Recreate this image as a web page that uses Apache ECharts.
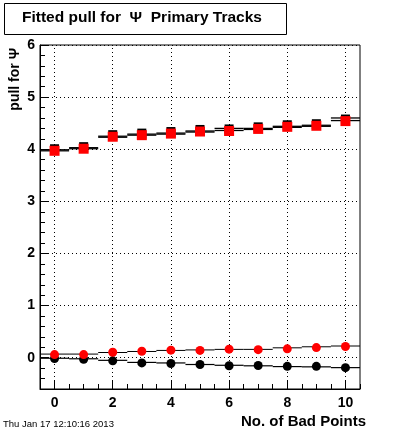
<!DOCTYPE html>
<html>
<head>
<meta charset="utf-8">
<script src="https://cdn.jsdelivr.net/npm/echarts@6/dist/echarts.min.js"></script>
<style>
html,body{margin:0;padding:0;background:#fff;}
#chart{width:400px;height:433px;}
</style>
</head>
<body>
<div id="chart"></div>
<script>
// ---- data ----
const bins = [0, 1, 2, 3, 4, 5, 6, 7, 8, 9, 10];
const redSquares   = [3.97, 4.01, 4.24, 4.27, 4.30, 4.34, 4.35, 4.39, 4.43, 4.45, 4.54];
const blackSquares = [4.00, 4.04, 4.27, 4.30, 4.33, 4.37, 4.38, 4.42, 4.46, 4.48, 4.57];
const upperHistA   = [3.99, 4.03, 4.25, 4.29, 4.31, 4.35, 4.40, 4.40, 4.44, 4.46, 4.60];
const upperHistB   = [3.97, 4.01, 4.23, 4.27, 4.29, 4.33, 4.36, 4.38, 4.42, 4.44, 4.55];
const redCircles   = [0.06, 0.06, 0.105, 0.125, 0.145, 0.14, 0.165, 0.155, 0.17, 0.195, 0.215];
const blackCircles = [-0.015, -0.03, -0.06, -0.10, -0.11, -0.13, -0.155, -0.15, -0.165, -0.165, -0.19];
const lowerHistRed   = [0.07, 0.07, 0.10, 0.12, 0.14, 0.15, 0.16, 0.16, 0.19, 0.21, 0.225];
const lowerHistBlack = [-0.01, -0.02, -0.05, -0.09, -0.10, -0.13, -0.145, -0.155, -0.17, -0.175, -0.19];
const xTickLabels = [0, 2, 4, 6, 8, 10];
const yTickLabels = [0, 1, 2, 3, 4, 5, 6];
const titleText = 'Fitted pull for  \u03A8  Primary Tracks';
const xTitle = 'No. of Bad Points';
const yTitle = 'pull for \u03A8';
const dateText = 'Thu Jan 17 12:10:16 2013';

// ---- build ----
const X_MIN = -0.5, X_MAX = 10.5, Y_MIN = -0.6, Y_MAX = 6;
const xMinor = [];
for (let v = X_MIN; v <= X_MAX + 1e-9; v += 0.5) xMinor.push(Math.round(v * 10) / 10);
const yMinor = [];
for (let v = Y_MIN; v <= Y_MAX + 1e-9; v += 0.2) yMinor.push(Math.round(v * 10) / 10);

const pairs = arr => bins.map((b, i) => [b, arr[i]]);
const FONT = 'Liberation Sans, Arial, Helvetica, sans-serif';

function stepSeries(arr, w) {
  return {
    type: 'custom',
    xAxisIndex: 0, yAxisIndex: 0,
    data: pairs(arr),
    silent: true,
    z: 3,
    renderItem: function (params, api) {
      const x = api.value(0), v = api.value(1);
      const p1 = api.coord([x - 0.5, v]);
      const p2 = api.coord([x + 0.5, v]);
      return {
        type: 'line',
        shape: { x1: p1[0], y1: p1[1], x2: p2[0], y2: p2[1] },
        style: { stroke: '#000', lineWidth: w }
      };
    }
  };
}

function marker(arr, sym, size, color, z) {
  return {
    type: 'scatter', xAxisIndex: 0, yAxisIndex: 0, data: pairs(arr), silent: true,
    symbol: sym, symbolSize: size, itemStyle: { color: color, opacity: 1 }, z: z
  };
}

const chart = echarts.init(document.getElementById('chart'), null, { renderer: 'canvas' });
const option = {
  animation: false,
  backgroundColor: '#fff',
  grid: {
    left: 40, top: 45, right: 40, bottom: 44,
    show: true, borderColor: '#000', borderWidth: 1, backgroundColor: 'transparent'
  },
  xAxis: [
    {
      type: 'value', min: X_MIN, max: X_MAX, position: 'bottom',
      axisLine: { show: true, onZero: false, lineStyle: { color: '#000', width: 1 } },
      axisTick: { show: true, inside: true, length: 9, customValues: xTickLabels, lineStyle: { color: '#000', width: 1 } },
      axisLabel: { show: true, customValues: xTickLabels, color: '#000', fontFamily: FONT, fontWeight: 'bold', fontSize: 14, margin: 7 },
      splitLine: { show: false }
    },
    {
      type: 'value', min: X_MIN, max: X_MAX, position: 'bottom',
      axisLine: { show: false, onZero: false },
      axisTick: { show: true, inside: true, length: 5, customValues: xMinor, lineStyle: { color: '#000', width: 1 } },
      axisLabel: { show: false },
      splitLine: { show: false }
    }
  ],
  yAxis: [
    {
      type: 'value', min: Y_MIN, max: Y_MAX, position: 'left',
      axisLine: { show: true, onZero: false, lineStyle: { color: '#000', width: 1 } },
      axisTick: { show: true, inside: true, length: 9, customValues: yTickLabels, lineStyle: { color: '#000', width: 1 } },
      axisLabel: { show: true, customValues: yTickLabels, color: '#000', fontFamily: FONT, fontWeight: 'bold', fontSize: 14, margin: 5 },
      splitLine: { show: false }
    },
    {
      type: 'value', min: Y_MIN, max: Y_MAX, position: 'left',
      axisLine: { show: false, onZero: false },
      axisTick: { show: true, inside: true, length: 5, customValues: yMinor, lineStyle: { color: '#000', width: 1 } },
      axisLabel: { show: false },
      splitLine: { show: false }
    }
  ],
  series: [
    {
      type: 'scatter', xAxisIndex: 0, yAxisIndex: 0, data: [], silent: true,
      markLine: {
        silent: true, symbol: ['none', 'none'], label: { show: false },
        lineStyle: { color: '#000', width: 1, type: [1, 3] },
        emphasis: { disabled: true },
        data: xTickLabels.map(v => ({ xAxis: v })).concat(yTickLabels.map(v => ({ yAxis: v })))
      }
    },
    stepSeries(upperHistA, 1.3),
    stepSeries(upperHistB, 1.3),
    stepSeries(lowerHistRed, 1),
    stepSeries(lowerHistBlack, 1.2),
    marker(blackSquares, 'rect', [9, 10], '#000', 4),
    marker(redSquares, 'rect', [10, 10], '#ff0000', 5),
    marker(blackCircles, 'circle', 9, '#000', 4),
    marker(redCircles, 'circle', 9, '#ff0000', 5)
  ],
  graphic: [
    {
      type: 'rect', left: 4, top: 3, z: 10,
      shape: { x: 0, y: 0, width: 282, height: 31 },
      style: { fill: '#fff', stroke: '#000', lineWidth: 1 }
    },
    {
      type: 'text', left: 22, top: 10, z: 11,
      style: { text: titleText, fill: '#000', font: 'bold 15.5px ' + FONT }
    },
    {
      type: 'text', x: 8, y: 48, rotation: Math.PI / 2, z: 11,
      style: { text: yTitle, fill: '#000', font: 'bold 14px ' + FONT, align: 'right', verticalAlign: 'top' }
    },
    {
      type: 'text', x: 366, y: 422, z: 11,
      style: { text: xTitle, fill: '#000', font: 'bold 15px ' + FONT, align: 'right', verticalAlign: 'middle' }
    },
    {
      type: 'text', x: 3, y: 424, z: 11,
      style: { text: dateText, fill: '#000', font: '9.5px ' + FONT, align: 'left', verticalAlign: 'middle' }
    }
  ]
};
chart.setOption(option);
</script>
</body>
</html>
